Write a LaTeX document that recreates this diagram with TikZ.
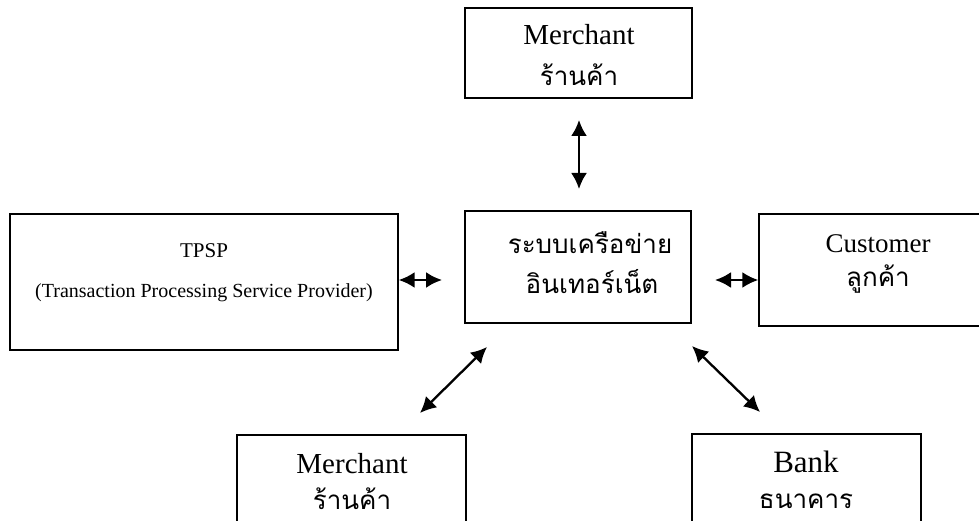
\documentclass[tikz,border=0pt]{standalone}
\usepackage{fontspec}
\setmainfont{Liberation Serif}
\newfontfamily\thaifont[Script=Thai]{Loma}
\usetikzlibrary{arrows.meta}
\tikzset{
  box/.style={draw=black, line width=1.4pt, fill=white, inner sep=0pt},
  en/.style={inner sep=0pt, anchor=base, font=\fontsize{29}{30}\selectfont},
  th/.style={inner sep=0pt, anchor=base, font=\thaifont\fontsize{26}{28}\selectfont},
  link/.style={line width=2.3pt, {Latex[length=16pt,width=16pt]}-{Latex[length=16pt,width=16pt]}}
}
\begin{document}
\begin{tikzpicture}[x=1pt,y=-1pt]
\useasboundingbox (0,0) rectangle (979,521);
\clip (0,0) rectangle (979,521);
\fill[white] (0,0) rectangle (979,521);
% boxes
\node[box, minimum width=227pt, minimum height=90pt] (mtop) at (578.5,53) {};
\node[box, minimum width=388pt, minimum height=136pt] (tpsp) at (204,282) {};
\node[box, minimum width=226pt, minimum height=112pt] (net) at (578,267) {};
\node[box, minimum width=236pt, minimum height=112pt] (cust) at (877,270) {};
\node[box, minimum width=229pt, minimum height=130pt] (mbot) at (351.5,500) {};
\node[box, minimum width=229pt, minimum height=130pt] (bank) at (806.5,499) {};
% texts
\node[en] (mtopen) at (579,45) {Merchant};
\node[th] (mtopth) at (579,86) {ร้านค้า};
\node[en, font=\fontsize{21}{24}\selectfont] (tpspen) at (204,258) {TPSP};
\node[en, font=\fontsize{20}{24}\selectfont] (tpspfull) at (204,297) {(Transaction Processing Service Provider)};
\node[th] (net1) at (590,254) {ระบบเครือข่าย};
\node[th] (net2) at (592,293) {อินเทอร์เน็ต};
\node[en, font=\fontsize{27}{30}\selectfont] (custen) at (878,252) {Customer};
\node[th] (custth) at (878,286) {ลูกค้า};
\node[en] (mboten) at (352,473) {Merchant};
\node[th] (mbotth) at (352,509) {ร้านค้า};
\node[en, font=\fontsize{31}{32}\selectfont] (banken) at (806,472) {Bank};
\node[th] (bankth) at (806,508) {ธนาคาร};
% connector ends
\coordinate (vt) at (579,120);
\coordinate (vb) at (579,189);
\coordinate (lr) at (442,280);
\coordinate (rl) at (715,280);
\coordinate (dl1) at (487,347);
\coordinate (dl2) at (420,413);
\coordinate (dr1) at (692,346);
\coordinate (dr2) at (760,412);
\draw[link] (vt) -- (vb);
\draw[link] (tpsp.east |- lr) -- (lr);
\draw[link] (rl) -- (cust.west |- rl);
\draw[link] (dl1) -- (dl2);
\draw[link] (dr1) -- (dr2);
\end{tikzpicture}
\end{document}
